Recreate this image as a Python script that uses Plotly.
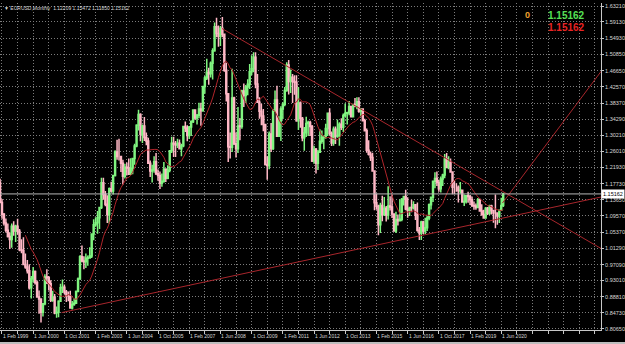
import pandas as pd
import plotly.graph_objects as go

# ---------------- data (EURUSD monthly, Jan 1999 .. Jul 2020) ----------------
first_open = 1.1812
closes = [
    1.1300,1.0998,1.0770,1.0590,1.0430,1.0350,1.0690,1.0570,1.0690,1.0560,1.0090,1.0070,
    0.9710,0.9650,0.9550,0.9120,0.9350,0.9530,0.9250,0.8880,0.8830,0.8490,0.8710,0.9390,
    0.9370,0.9220,0.8800,0.8880,0.8470,0.8490,0.8770,0.9120,0.9130,0.9010,0.8900,0.8900,
    0.8600,0.8690,0.8720,0.9020,0.9340,0.9910,0.9800,0.9780,0.9870,0.9880,0.9930,1.0490,
    1.0730,1.0780,1.0910,1.1170,1.1800,1.1500,1.1250,1.0990,1.1650,1.1590,1.1990,1.2590,
    1.2470,1.2470,1.2300,1.1970,1.2200,1.2180,1.2020,1.2170,1.2420,1.2740,1.3270,1.3550,
    1.3040,1.3250,1.2960,1.2870,1.2300,1.2100,1.2130,1.2340,1.2030,1.1990,1.1790,1.1840,
    1.2150,1.1920,1.2120,1.2620,1.2810,1.2790,1.2770,1.2810,1.2670,1.2750,1.3240,1.3200,
    1.3010,1.3230,1.3360,1.3660,1.3460,1.3530,1.3690,1.3640,1.4260,1.4480,1.4630,1.4590,
    1.4860,1.5180,1.5790,1.5620,1.5550,1.5750,1.5600,1.4680,1.4080,1.2720,1.2710,1.3970,
    1.2800,1.2670,1.3250,1.3240,1.4150,1.4030,1.4250,1.4320,1.4640,1.4720,1.5010,1.4330,
    1.3860,1.3630,1.3510,1.3290,1.2270,1.2240,1.3050,1.2680,1.3630,1.3920,1.2990,1.3380,
    1.3690,1.3810,1.4160,1.4810,1.4390,1.4500,1.4390,1.4370,1.3390,1.3840,1.3450,1.2950,
    1.3080,1.3320,1.3340,1.3240,1.2360,1.2660,1.2300,1.2580,1.2860,1.2960,1.2990,1.3190,
    1.3580,1.3060,1.2820,1.3170,1.2990,1.3010,1.3300,1.3220,1.3520,1.3580,1.3590,1.3750,
    1.3490,1.3800,1.3770,1.3870,1.3630,1.3690,1.3390,1.3130,1.2630,1.2530,1.2450,1.2100,
    1.1290,1.1200,1.0730,1.1220,1.0990,1.1150,1.0980,1.1210,1.1180,1.1000,1.0570,1.0860,
    1.0830,1.0870,1.1380,1.1450,1.1130,1.1100,1.1170,1.1160,1.1240,1.0980,1.0590,1.0520,
    1.0800,1.0570,1.0650,1.0900,1.1240,1.1430,1.1840,1.1910,1.1810,1.1650,1.1900,1.2000,
    1.2410,1.2190,1.2320,1.2080,1.1690,1.1690,1.1690,1.1600,1.1610,1.1310,1.1320,1.1470,
    1.1450,1.1370,1.1220,1.1210,1.1170,1.1370,1.1080,1.0990,1.0900,1.1150,1.1020,1.1210,
    1.1090,1.1030,1.1030,1.0950,1.1100,1.12209,1.15162,
]
highs = [
    1.1906,1.1385,1.1030,1.0890,1.0760,1.0530,1.0760,1.0820,1.0730,1.0880,1.0620,1.0360,
    1.0410,0.9990,0.9830,0.9720,0.9420,0.9650,0.9560,0.9300,0.9050,0.8830,0.8710,0.9460,
    0.9590,0.9420,0.9310,0.9040,0.8960,0.8640,0.8800,0.9220,0.9330,0.9200,0.9060,0.9020,
    0.9040,0.8780,0.8840,0.9050,0.9380,0.9950,1.0200,0.9920,0.9990,0.9940,1.0150,1.0500,
    1.0870,1.0920,1.1080,1.1190,1.1930,1.1930,1.1590,1.1480,1.1680,1.1830,1.2000,1.2630,
    1.2900,1.2930,1.2490,1.2390,1.2290,1.2320,1.2420,1.2430,1.2430,1.2800,1.3300,1.3670,
    1.3580,1.3290,1.3480,1.3090,1.2950,1.2370,1.2260,1.2480,1.2560,1.2140,1.2090,1.2040,
    1.2330,1.2170,1.2250,1.2630,1.2980,1.2980,1.2870,1.2930,1.2910,1.2800,1.3260,1.3370,
    1.3270,1.3250,1.3400,1.3680,1.3680,1.3560,1.3850,1.3850,1.4280,1.4530,1.4970,1.4740,
    1.4900,1.5240,1.5900,1.6020,1.5820,1.5810,1.6040,1.5620,1.4870,1.4100,1.3090,1.4720,
    1.4000,1.3090,1.3740,1.3460,1.4180,1.4340,1.4300,1.4450,1.4840,1.5060,1.5140,1.5140,
    1.4580,1.3990,1.3820,1.3690,1.3300,1.2480,1.3110,1.3330,1.3680,1.4160,1.4280,1.3500,
    1.3760,1.3860,1.4250,1.4880,1.4940,1.4700,1.4580,1.4550,1.4550,1.4250,1.3880,1.3480,
    1.3230,1.3490,1.3390,1.3390,1.3280,1.2750,1.2690,1.2640,1.3170,1.3140,1.3010,1.3310,
    1.3590,1.3710,1.3110,1.3240,1.3240,1.3420,1.3350,1.3450,1.3570,1.3830,1.3620,1.3890,
    1.3770,1.3820,1.3970,1.3990,1.3990,1.3700,1.3700,1.3440,1.3190,1.2890,1.2600,1.2570,
    1.2110,1.1530,1.1240,1.1290,1.1470,1.1440,1.1210,1.1710,1.1460,1.1500,1.1020,1.1060,
    1.0990,1.1380,1.1410,1.1460,1.1620,1.1430,1.1180,1.1370,1.1330,1.1260,1.1300,1.0670,
    1.0830,1.0830,1.0910,1.0950,1.1270,1.1450,1.1850,1.2070,1.2090,1.1880,1.1960,1.2030,
    1.2540,1.2560,1.2480,1.2420,1.2080,1.1850,1.1790,1.1730,1.1820,1.1630,1.1500,1.1490,
    1.1570,1.1490,1.1450,1.1320,1.1270,1.1410,1.1390,1.1250,1.1110,1.1180,1.1180,1.1240,
    1.1240,1.1100,1.1500,1.1040,1.1110,1.1420,1.15472,
]
lows = [
    1.1298,1.0882,1.0710,1.0530,1.0400,1.0105,1.0140,1.0450,1.0290,1.0470,1.0050,1.0000,
    0.9700,0.9600,0.9480,0.9070,0.8840,0.9260,0.9200,0.8860,0.8450,0.8230,0.8380,0.8670,
    0.9210,0.9050,0.8750,0.8760,0.8440,0.8350,0.8360,0.8760,0.8980,0.8950,0.8750,0.8770,
    0.8580,0.8560,0.8660,0.8720,0.9010,0.9330,0.9770,0.9590,0.9620,0.9680,0.9860,0.9880,
    1.0330,1.0680,1.0500,1.0620,1.1130,1.1370,1.1200,1.0770,1.0760,1.1560,1.1500,1.1960,
    1.2390,1.2370,1.2080,1.1760,1.1910,1.1990,1.2000,1.2020,1.2020,1.2260,1.2710,1.3140,
    1.2860,1.2820,1.2870,1.2760,1.2290,1.1950,1.1810,1.2060,1.2000,1.1850,1.1640,1.1700,
    1.1800,1.1820,1.1890,1.2070,1.2560,1.2460,1.2460,1.2690,1.2650,1.2480,1.2710,1.3100,
    1.2860,1.2920,1.3000,1.3330,1.3410,1.3290,1.3450,1.3260,1.3620,1.4080,1.4430,1.4310,
    1.4490,1.4440,1.5150,1.5520,1.5280,1.5300,1.5520,1.4640,1.3880,1.2330,1.2420,1.2590,
    1.2770,1.2450,1.2560,1.2890,1.3180,1.3740,1.3840,1.4040,1.4200,1.4550,1.4630,1.4220,
    1.3850,1.3440,1.3270,1.3120,1.2240,1.1880,1.2150,1.2590,1.2640,1.3610,1.2970,1.3080,
    1.2870,1.3430,1.3760,1.4130,1.4060,1.4100,1.3840,1.4050,1.3360,1.3150,1.3210,1.2860,
    1.2620,1.2970,1.3000,1.3000,1.2330,1.2290,1.2040,1.2130,1.2570,1.2800,1.2660,1.2930,
    1.3000,1.3010,1.2740,1.2750,1.2790,1.2950,1.2750,1.3150,1.3100,1.3480,1.3290,1.3530,
    1.3480,1.3470,1.3730,1.3680,1.3590,1.3500,1.3370,1.3130,1.2570,1.2500,1.2360,1.2100,
    1.1100,1.1110,1.0460,1.0520,1.0820,1.0950,1.0810,1.0860,1.1090,1.0900,1.0560,1.0520,
    1.0710,1.0810,1.0820,1.1220,1.1100,1.0910,1.0950,1.1050,1.1120,1.0850,1.0550,1.0340,
    1.0340,1.0490,1.0490,1.0570,1.0840,1.1120,1.1310,1.1660,1.1720,1.1570,1.1550,1.1720,
    1.1920,1.2190,1.2150,1.2060,1.1510,1.1510,1.1570,1.1300,1.1530,1.1300,1.1210,1.1270,
    1.1290,1.1230,1.1180,1.1110,1.1110,1.1180,1.1080,1.0960,1.0880,1.0880,1.0980,1.0980,
    1.0990,1.0780,1.0640,1.0730,1.0770,1.1100,1.11850,
]
months = [p.strftime("%b %Y") for p in pd.period_range("1999-01", periods=len(closes), freq="M")]

y_tick_values = [1.63210,1.59130,1.54930,1.50850,1.46650,1.42570,1.38370,1.34290,1.30210,
                 1.26010,1.21930,1.17730,1.13650,1.09570,1.05370,1.01290,0.97090,0.93010,
                 0.88810,0.84730,0.80650]
x_tick_labels = ["1 Feb 1999","1 Jun 2000","1 Oct 2001","1 Feb 2003","1 Jun 2004","1 Oct 2005",
                 "1 Feb 2007","1 Jun 2008","1 Oct 2009","1 Feb 2011","1 Jun 2012","1 Oct 2013",
                 "1 Feb 2015","1 Jun 2016","1 Oct 2017","1 Feb 2019","1 Jun 2020"]
title_text = "\u25BC EURUSD,Monthly  1.12209 1.15472 1.11850 1.15162"
ma_period = 14

# trend lines: (bar index, price) endpoints
trend_down = ([113.8, 308.2], [1.5746, 1.0120])
trend_up = ([31.6, 308.2], [0.8482, 1.1438])
trend_steep = ([257.6, 308.2], [1.1283, 1.4650])

# ---------------- build ----------------
n = len(closes)
idx = list(range(n))
opens = [first_open] + closes[:-1]
highs = [max(h, o, c) for h, o, c in zip(highs, opens, closes)]
lows = [min(l, o, c) for l, o, c in zip(lows, opens, closes)]
ma = pd.Series(closes).rolling(ma_period).mean()

BULL = "#80f580"
BEAR = "#ffb8c6"
LINE_RED = "#a8262c"

fig = go.Figure()
fig.add_trace(go.Candlestick(
    x=idx, open=opens, high=highs, low=lows, close=closes,
    increasing=dict(line=dict(color=BULL, width=1.5), fillcolor=BULL),
    decreasing=dict(line=dict(color=BEAR, width=1.5), fillcolor=BEAR),
    whiskerwidth=0, hoverinfo="skip", showlegend=False))
fig.add_trace(go.Scatter(x=idx, y=ma, mode="lines", line=dict(color="#b0242a", width=1),
                         hoverinfo="skip", showlegend=False))
for xs, ys in (trend_down, trend_up, trend_steep):
    fig.add_trace(go.Scatter(x=xs, y=ys, mode="lines", line=dict(color=LINE_RED, width=1),
                             hoverinfo="skip", showlegend=False))
# bid line
fig.add_trace(go.Scatter(x=[-1, 320], y=[closes[-1], closes[-1]], mode="lines",
                         line=dict(color="#b8b8b8", width=1), hoverinfo="skip", showlegend=False))

grid_x = list(range(1, 320, 8))
fig.update_layout(
    width=625, height=344,
    margin=dict(l=0, r=21, t=3, b=14),
    paper_bgcolor="black", plot_bgcolor="black",
    hovermode=False, showlegend=False,
    font=dict(family="Liberation Sans, Arial", color="#d8d8d8", size=5),
    xaxis=dict(range=[-0.02, 308.14], tickvals=grid_x, showticklabels=False,
               ticks="outside", ticklen=3, tickcolor="#c8c8c8",
               showgrid=True, gridcolor="#7c7c7c", griddash="1px,2px", gridwidth=1,
               showline=True, linecolor="#c8c8c8", linewidth=1,
               zeroline=False, rangeslider=dict(visible=False), fixedrange=True),
    yaxis=dict(range=[0.8037, 1.6398], side="right", tickvals=y_tick_values,
               ticktext=[f"{v:.5f}" for v in y_tick_values],
               ticks="outside", ticklen=2, tickcolor="#c8c8c8",
               tickfont=dict(size=5.5, color="#d8d8d8"),
               showgrid=True, gridcolor="#7c7c7c", griddash="1px,2px", gridwidth=1,
               showline=True, linecolor="#c8c8c8", linewidth=1,
               zeroline=False, fixedrange=True),
)

annotations = []
for lab in x_tick_labels:
    pos = months.index(lab[2:])
    annotations.append(dict(x=pos, y=0, xref="x", yref="paper", text=lab, showarrow=False,
                            xanchor="left", yanchor="top", yshift=-1, xshift=-1,
                            font=dict(size=5, color="#d8d8d8")))
annotations.append(dict(x=0.004, y=1.0, xref="paper", yref="paper", text=title_text,
                        showarrow=False, xanchor="left", yanchor="top",
                        font=dict(size=5, color="#d8d8d8")))
annotations.append(dict(x=1.0, y=closes[-1], xref="paper", yref="y", text=f"{closes[-1]:.5f}",
                        showarrow=False, xanchor="left", yanchor="middle", xshift=0,
                        bgcolor="white", borderpad=1, font=dict(size=5.5, color="black")))
annotations.append(dict(x=530/604, y=1-(15-3)/327, xref="paper", yref="paper", text="<b>0</b>",
                        showarrow=False, xanchor="center", yanchor="middle",
                        font=dict(size=9, color="#f0a030")))
annotations.append(dict(x=590/604, y=1-(15-3)/327, xref="paper", yref="paper",
                        text=f"<b>{closes[-1]:.5f}</b>", showarrow=False,
                        xanchor="right", yanchor="middle", font=dict(size=10, color="#55e055")))
annotations.append(dict(x=590/604, y=1-(27-3)/327, xref="paper", yref="paper",
                        text=f"<b>{closes[-1]:.5f}</b>", showarrow=False,
                        xanchor="right", yanchor="middle", font=dict(size=10, color="#e82424")))
fig.update_layout(annotations=annotations)

fig.add_shape(type="rect", xref="paper", yref="paper", x0=0, x1=1.04,
              y0=(330-344)/327, y1=(330-342)/327, fillcolor="#bdbdbd", line=dict(width=0))

fig.write_html("out.html", config={"displayModeBar": False, "staticPlot": True})
